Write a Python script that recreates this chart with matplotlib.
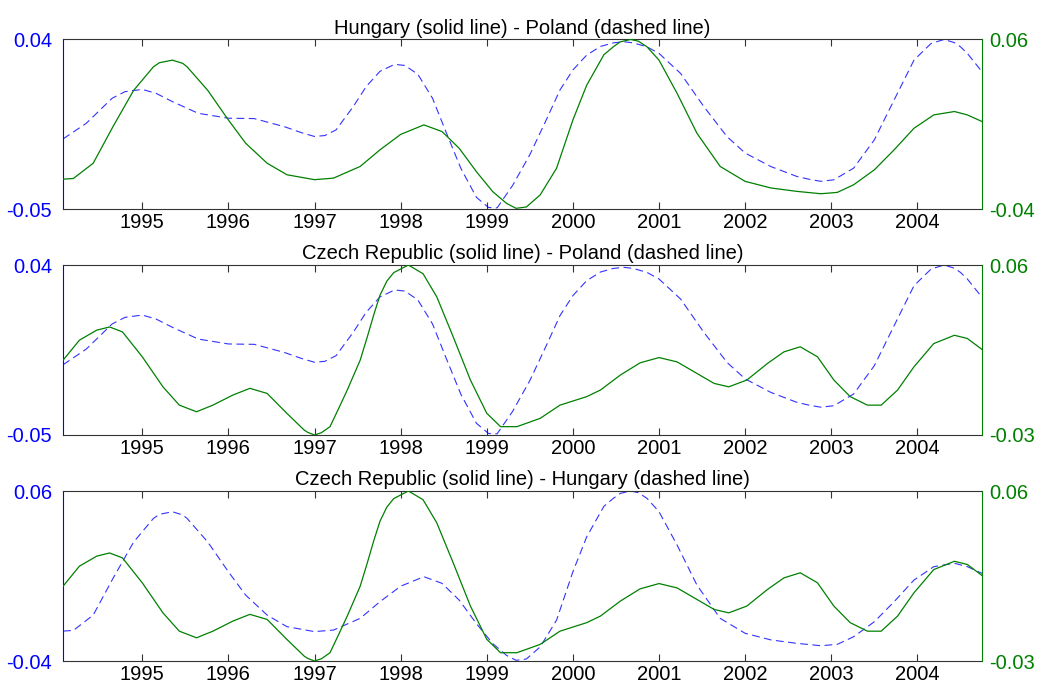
import matplotlib
matplotlib.use('Agg')
import matplotlib.pyplot as plt

plt.rcParams['font.family'] = ['Liberation Sans', 'DejaVu Sans']

# series (año, valor)
t_pol = [1994.08, 1994.35, 1994.65, 1994.8, 1995.0, 1995.16, 1995.35, 1995.65, 1996.0, 1996.3,
         1996.65, 1996.85, 1997.0, 1997.12, 1997.25, 1997.45, 1997.6, 1997.76, 1997.93, 1998.05,
         1998.2, 1998.37, 1998.53, 1998.7, 1998.88, 1999.02, 1999.12, 1999.3, 1999.5, 1999.7,
         1999.85, 2000.0, 2000.16, 2000.32, 2000.47, 2000.59, 2000.7, 2000.86, 2001.0, 2001.25,
         2001.52, 2001.79, 2002.0, 2002.3, 2002.6, 2002.75, 2002.88, 2003.03, 2003.26, 2003.5,
         2003.73, 2003.96, 2004.08, 2004.16, 2004.31, 2004.43, 2004.5, 2004.58, 2004.75]
polonia = [-0.0128, -0.0045, 0.0088, 0.0123, 0.0135, 0.0114, 0.0070, 0.0008, -0.0018, -0.0020,
           -0.0063, -0.0095, -0.0115, -0.0110, -0.0080, 0.0044, 0.0150, 0.0231, 0.0268, 0.0262,
           0.0215, 0.0088, -0.0095, -0.0285, -0.0438, -0.0492, -0.0494, -0.0375, -0.0212, -0.0018,
           0.0132, 0.0238, 0.0317, 0.0363, 0.0382, 0.0388, 0.0382, 0.0361, 0.0326, 0.0220,
           0.0044, -0.0116, -0.0203, -0.0275, -0.0327, -0.0343, -0.0353, -0.0345, -0.0283, -0.0133,
           0.0079, 0.0290, 0.0344, 0.0379, 0.0400, 0.0383, 0.0361, 0.0326, 0.0229]

t_hun = [1994.08, 1994.2, 1994.43, 1994.66, 1994.9, 1995.13, 1995.2, 1995.35, 1995.47, 1995.52,
         1995.76, 1996.0, 1996.2, 1996.45, 1996.68, 1997.0, 1997.22, 1997.53, 1997.76, 1998.0,
         1998.27, 1998.48, 1998.68, 1998.88, 1999.07, 1999.23, 1999.34, 1999.46, 1999.62, 1999.81,
         2000.0, 2000.16, 2000.36, 2000.47, 2000.55, 2000.67, 2000.76, 2000.86, 2001.0, 2001.21,
         2001.44, 2001.71, 2002.0, 2002.3, 2002.6, 2002.88, 2003.07, 2003.26, 2003.5, 2003.73,
         2003.96, 2004.19, 2004.43, 2004.58, 2004.75]
hungria = [-0.0224, -0.0220, -0.0130, 0.0086, 0.0300, 0.0439, 0.0463, 0.0478, 0.0459, 0.0439,
           0.0300, 0.0125, -0.0012, -0.0130, -0.0198, -0.0227, -0.0218, -0.0149, -0.0051, 0.0040,
           0.0096, 0.0057, -0.0042, -0.0180, -0.0298, -0.0367, -0.0396, -0.0388, -0.0317, -0.0160,
           0.0125, 0.0330, 0.0510, 0.0557, 0.0586, 0.0600, 0.0590, 0.0557, 0.0478, 0.0282,
           0.0047, -0.0149, -0.0237, -0.0276, -0.0296, -0.0310, -0.0302, -0.0257, -0.0169, -0.0051,
           0.0076, 0.0155, 0.0175, 0.0155, 0.0116]

t_che = [1994.08, 1994.27, 1994.47, 1994.62, 1994.77, 1995.0, 1995.24, 1995.43, 1995.63, 1995.82,
         1996.05, 1996.25, 1996.45, 1996.68, 1996.88, 1996.92, 1997.0, 1997.08, 1997.18, 1997.29,
         1997.38, 1997.53, 1997.61, 1997.69, 1997.76, 1997.84, 1997.92, 1998.09, 1998.26, 1998.42,
         1998.61, 1998.81, 1999.0, 1999.16, 1999.35, 1999.62, 1999.85, 2000.16, 2000.32, 2000.55,
         2000.78, 2001.0, 2001.21, 2001.44, 2001.64, 2001.81, 2002.02, 2002.26, 2002.45, 2002.64,
         2002.84, 2003.03, 2003.22, 2003.42, 2003.58, 2003.77, 2003.96, 2004.19, 2004.43, 2004.58,
         2004.75]
chequia = [0.0096, 0.0202, 0.0255, 0.0272, 0.0246, 0.0114, -0.0045, -0.0142, -0.0177, -0.0142,
           -0.0089, -0.0053, -0.0080, -0.0186, -0.0274, -0.0286, -0.0300, -0.0288, -0.0256, -0.0150,
           -0.0062, 0.0096, 0.0215, 0.0340, 0.0440, 0.0515, 0.0560, 0.0600, 0.0554, 0.0431,
           0.0220, -0.0009, -0.0185, -0.0256, -0.0256, -0.0212, -0.0142, -0.0097, -0.0062, 0.0017,
           0.0082, 0.0110, 0.0087, 0.0026, -0.0027, -0.0045, -0.0009, 0.0079, 0.0140, 0.0167,
           0.0114, -0.0009, -0.0097, -0.0142, -0.0142, -0.0062, 0.0061, 0.0184, 0.0228, 0.0211,
           0.0153]

anios = [1995, 1996, 1997, 1998, 1999, 2000, 2001, 2002, 2003, 2004]

titulos = ['Hungary (solid line) - Poland (dashed line)',
           'Czech Republic (solid line) - Poland (dashed line)',
           'Czech Republic (solid line) - Hungary (dashed line)']
# (serie punteada, serie solida, limites izq, limites der)
paneles = [((t_pol, polonia), (t_hun, hungria), (-0.05, 0.04), (-0.04, 0.06)),
           ((t_pol, polonia), (t_che, chequia), (-0.05, 0.04), (-0.03, 0.06)),
           ((t_hun, hungria), (t_che, chequia), (-0.04, 0.06), (-0.03, 0.06))]
posiciones = [[0.0605, 0.6971, 0.8819, 0.2457],
              [0.0605, 0.3696, 0.8819, 0.2463],
              [0.0605, 0.0420, 0.8819, 0.2464]]

azul = '#0000ff'
verde = '#008000'
fs = 14.5

fig = plt.figure(figsize=(10.42, 6.9), dpi=100)

for i in range(3):
    (tx1, y1), (tx2, y2), lim1, lim2 = paneles[i]
    ax = fig.add_axes(posiciones[i])
    ax.plot(tx1, y1, color=azul, lw=0.8, ls='--', dashes=(7, 4), alpha=0.8)
    ax.set_xlim(1994.08, 2004.75)
    ax.set_ylim(lim1)
    ax.set_xticks(anios)
    ax.set_xticklabels([str(a) for a in anios])
    ax.set_yticks(list(lim1))
    ax.set_yticklabels(['%g' % v for v in lim1])
    ax.tick_params(axis='x', direction='in', length=5, top=True, labelsize=fs, pad=3,
                   color='#333333')
    ax.tick_params(axis='y', length=0, labelsize=fs, labelcolor=azul, pad=8)
    for s in ['top', 'bottom']:
        ax.spines[s].set_color('#333333')
    ax.spines['left'].set_color(azul)
    ax.spines['right'].set_visible(False)
    ax.set_title(titulos[i], fontsize=fs, pad=4)

    ax2 = ax.twinx()
    ax2.plot(tx2, y2, color=verde, lw=0.9)
    ax2.set_ylim(lim2)
    ax2.set_yticks(list(lim2))
    ax2.set_yticklabels(['%g' % v for v in lim2])
    ax2.tick_params(axis='y', length=0, labelsize=fs, labelcolor=verde, pad=5)
    ax2.spines['right'].set_color(verde)
    for s in ['left', 'top', 'bottom']:
        ax2.spines[s].set_visible(False)

fig.savefig('out.png', dpi=100)
